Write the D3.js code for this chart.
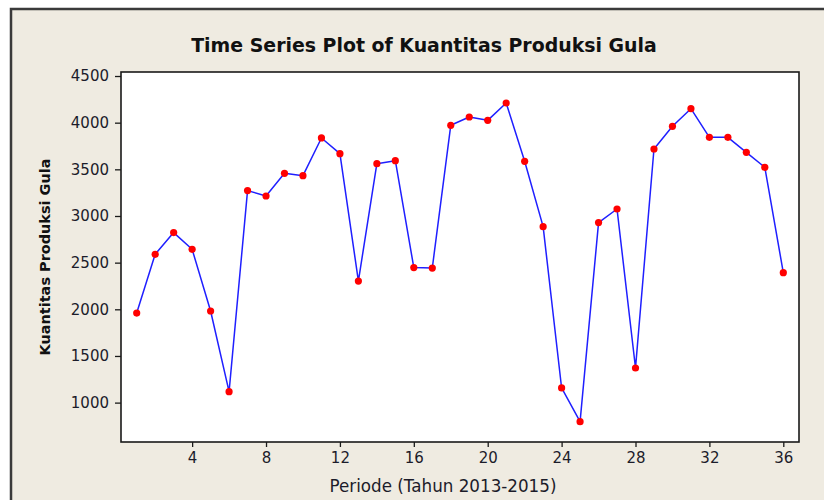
<!DOCTYPE html>
<html>
<head>
<meta charset="utf-8">
<script src="https://cdn.jsdelivr.net/npm/d3@7"></script>
<style>
  html, body { margin: 0; padding: 0; background: #ffffff; }
  svg { display: block; }
</style>
</head>
<body>
<svg id="chart" width="824" height="500"></svg>
<script>
// ---- Data ----
const periods = d3.range(1, 37);
const values = [1960, 2589, 2822, 2643, 1982, 1117, 3272, 3214, 3457, 3432, 3836, 3668,
                2303, 3561, 3593, 2447, 2442, 3972, 4061, 4025, 4211, 3586, 2886, 1157,
                796, 2929, 3075, 1371, 3718, 3961, 4150, 3843, 3843, 3682, 3522, 2393];
const xTicks = [4, 8, 12, 16, 20, 24, 28, 32, 36];
const yTicks = [1000, 1500, 2000, 2500, 3000, 3500, 4000, 4500];
const title = "Time Series Plot of Kuantitas Produksi Gula";
const xTitle = "Periode (Tahun 2013-2015)";
const yTitle = "Kuantitas Produksi Gula";

// ---- Layout ----
const svg = d3.select("#chart");
const plot = { left: 121, right: 799, top: 72, bottom: 442 };
const font = "'DejaVu Sans', sans-serif";

// background panel with frame (top/left edges visible)
svg.append("rect").attr("x", 11).attr("y", 9).attr("width", 830).attr("height", 510)
  .attr("fill", "#EFEBE1").attr("stroke", "#3a3a3a").attr("stroke-width", 2.5);

const x = d3.scaleLinear().domain([0.15, 36.85]).range([plot.left, plot.right]);
const y = d3.scaleLinear().domain([578, 4543]).range([plot.bottom, plot.top]);

// plot area
svg.append("rect").attr("x", plot.left).attr("y", plot.top)
  .attr("width", plot.right - plot.left).attr("height", plot.bottom - plot.top)
  .attr("fill", "#ffffff").attr("stroke", "#1a1a1a").attr("stroke-width", 1.6);

// axes
const xAxis = svg.append("g").attr("transform", `translate(0,${plot.bottom})`)
  .call(d3.axisBottom(x).tickValues(xTicks).tickFormat(d3.format("d"))
    .tickSize(5).tickSizeOuter(0).tickPadding(5));
const yAxis = svg.append("g").attr("transform", `translate(${plot.left},0)`)
  .call(d3.axisLeft(y).tickValues(yTicks).tickFormat(d3.format("d"))
    .tickSize(6).tickSizeOuter(0).tickPadding(6));
[xAxis, yAxis].forEach(g => {
  g.select(".domain").remove();
  g.selectAll(".tick line").attr("stroke", "#1a1a1a").attr("stroke-width", 1.3);
  g.selectAll(".tick text").attr("fill", "#1c1c2a")
    .style("font-family", font).style("font-size", "15px");
});

// line + markers
const line = d3.line().x((d, i) => x(periods[i])).y(d => y(d));
svg.append("path").datum(values).attr("d", line)
  .attr("fill", "none").attr("stroke", "#1f1fff").attr("stroke-width", 1.5)
  .attr("stroke-linejoin", "round");
svg.append("g").selectAll("circle").data(values).join("circle")
  .attr("cx", (d, i) => x(periods[i])).attr("cy", d => y(d))
  .attr("r", 3.6).attr("fill", "#ff0000");

// titles
function fitText(sel, target) {
  const w = sel.node().getComputedTextLength();
  if (w > 0) {
    const fs = parseFloat(sel.style("font-size"));
    sel.style("font-size", (fs * target / w).toFixed(2) + "px");
  }
}
const t = svg.append("text").attr("x", 424).attr("y", 52).attr("text-anchor", "middle")
  .style("font-family", font).style("font-weight", "bold").style("font-size", "16px")
  .attr("fill", "#111").text(title);
fitText(t, 466);

const xt = svg.append("text").attr("x", 443).attr("y", 492).attr("text-anchor", "middle")
  .style("font-family", font).style("font-size", "14px").attr("fill", "#1c1c2a").text(xTitle);
fitText(xt, 227);

const yt = svg.append("text").attr("transform", `translate(50,${(plot.top + plot.bottom) / 2}) rotate(-90)`)
  .attr("text-anchor", "middle")
  .style("font-family", font).style("font-weight", "bold").style("font-size", "13px")
  .attr("fill", "#111").text(yTitle);
fitText(yt, 197);
</script>
</body>
</html>
